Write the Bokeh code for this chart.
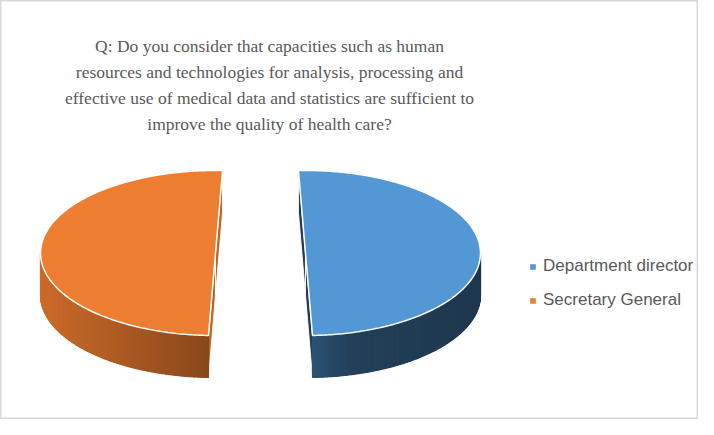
import numpy as np
from bokeh.plotting import figure
from bokeh.models import Range1d, ColumnDataSource, Legend, LegendItem
from bokeh.core.properties import value
from bokeh.embed import file_html
from bokeh.resources import INLINE

# ---------------- data ----------------
TITLE_LINES = [
    "Q: Do you consider that capacities such as human",
    "resources and technologies for analysis, processing and",
    "effective use of medical data and statistics are sufficient to",
    "improve the quality of health care?",
]
categories = ["Department director", "Secretary General"]
values = [50, 50]
colors = ["#5398D4", "#ED7D31"]

# ---------------- layout / style ----------------
W, H = 698, 419
X0, Y0 = 0, 0                      # data coords equal picture pixels
CX, CY = 260.0, 252.5              # pie centre
RX, RY = 175.0, 82.5               # ellipse radii of the top face
DEPTH = 42.0                       # thickness of the pie
EXPLODE = 0.257                    # explosion as fraction of radius
START = 0.0                        # angle of first slice (deg, clockwise from 12 o'clock)
PERSP_TILT = 2.3                   # apparent perspective tilt of exploded slices (deg)
TEXT_COLOR = "#595959"

p = figure(width=W, height=H, output_backend="svg", toolbar_location=None,
           x_range=Range1d(X0, X0 + W), y_range=Range1d(Y0 + H, Y0),
           x_axis_type=None, y_axis_type=None, min_border=0,
           background_fill_color="white", border_fill_color="white")
p.grid.visible = False
p.outline_line_color = "#D9D9D9"
p.outline_line_width = 2


def hex_to_rgb(h):
    h = h.lstrip("#")
    return np.array([int(h[i:i + 2], 16) for i in (0, 2, 4)], dtype=float)


def shade(h, k):
    r, g, b = np.clip(hex_to_rgb(h) * k, 0, 255).astype(int)
    return "#%02x%02x%02x" % (r, g, b)


def side_k(s):
    # lighting of the side wall as a function of horizontal direction sin(theta)
    return float(np.interp(s, [-1.0, 0.0, 0.25, 1.0], [0.86, 0.57, 0.43, 0.37]))


vals = np.array(values, dtype=float)
fracs = vals / vals.sum()
starts = START + 360.0 * np.concatenate([[0.0], np.cumsum(fracs)[:-1]])
ends = starts + 360.0 * fracs

legend_items = []
for i, (cat, col) in enumerate(zip(categories, colors)):
    mid_deg = (starts[i] + ends[i]) / 2
    mid = np.radians(mid_deg)
    tilt = -PERSP_TILT * np.sin(mid)
    ts, te = starts[i] + tilt, ends[i] + tilt
    ox = EXPLODE * RX * np.sin(mid)
    oy = -EXPLODE * RY * np.cos(mid)

    def pt(th_deg, rho, z):
        th = np.radians(th_deg)
        return (CX + ox + RX * rho * np.sin(th),
                CY + oy - RY * rho * np.cos(th) + z * DEPTH)

    # cut faces (radial planes)
    cxs, cys = [], []
    for th in (ts, te):
        quad = [pt(th, 0, 0), pt(th, 1, 0), pt(th, 1, 1), pt(th, 0, 1)]
        cxs.append([q[0] for q in quad])
        cys.append([q[1] for q in quad])
    cut_k = 0.8 if np.sin(mid) < 0 else 0.4
    p.patches(xs=cxs, ys=cys, fill_color=shade(col, cut_k),
              line_color="white", line_width=1, line_alpha=0.9)

    # visible outer side wall: a base band, then thin shaded strips on top
    ths = np.linspace(ts, te, 361)
    front = [t for t in ths if np.cos(np.radians(t)) < 0]
    if front:
        band = [pt(t, 1, 0) for t in front] + [pt(t, 1, 1) for t in front[::-1]]
        ks = [side_k(np.sin(np.radians(t))) for t in front]
        p.patch(x=[q[0] for q in band], y=[q[1] for q in band],
                fill_color=shade(col, float(np.mean(ks))), line_color=None)
    sxs, sys_, scol = [], [], []
    for a, b in zip(ths[:-1], ths[1:]):
        m = np.radians((a + b) / 2)
        if np.cos(m) < 0:
            quad = [pt(a, 1, 0), pt(b, 1, 0), pt(b, 1, 1), pt(a, 1, 1)]
            sxs.append([q[0] for q in quad])
            sys_.append([q[1] for q in quad])
            scol.append(shade(col, side_k(np.sin(m))))
    if sxs:
        src = ColumnDataSource(dict(xs=sxs, ys=sys_, c=scol))
        p.patches(xs="xs", ys="ys", fill_color="c", line_color="c",
                  line_width=1.2, source=src)

    # top face
    arc = np.linspace(ts, te, 241)
    pts = [pt(0, 0, 0)] + [pt(t, 1, 0) for t in arc]
    r = p.patch(x=[q[0] for q in pts], y=[q[1] for q in pts],
                fill_color=col, line_color="white", line_width=1.5)
    legend_items.append(LegendItem(label=cat, renderers=[r]))

# title
base0, step = 45.0, 26.3
p.text(x=[269.0] * len(TITLE_LINES),
       y=[base0 + step * k for k in range(len(TITLE_LINES))],
       text=TITLE_LINES, text_font=value("Liberation Serif"),
       text_font_size="17.5px", text_color=TEXT_COLOR,
       text_align="center", text_baseline="alphabetic")

legend = Legend(items=legend_items, location=(528, 109),
                orientation="vertical",
                glyph_width=9, glyph_height=9, label_standoff=6,
                label_height=20, spacing=14, padding=0, margin=0,
                label_text_font="Liberation Sans",
                label_text_font_size="17px", label_text_color=TEXT_COLOR,
                border_line_color=None, background_fill_alpha=0)
p.add_layout(legend, "center")

open("out.html", "w").write(file_html(p, INLINE))
